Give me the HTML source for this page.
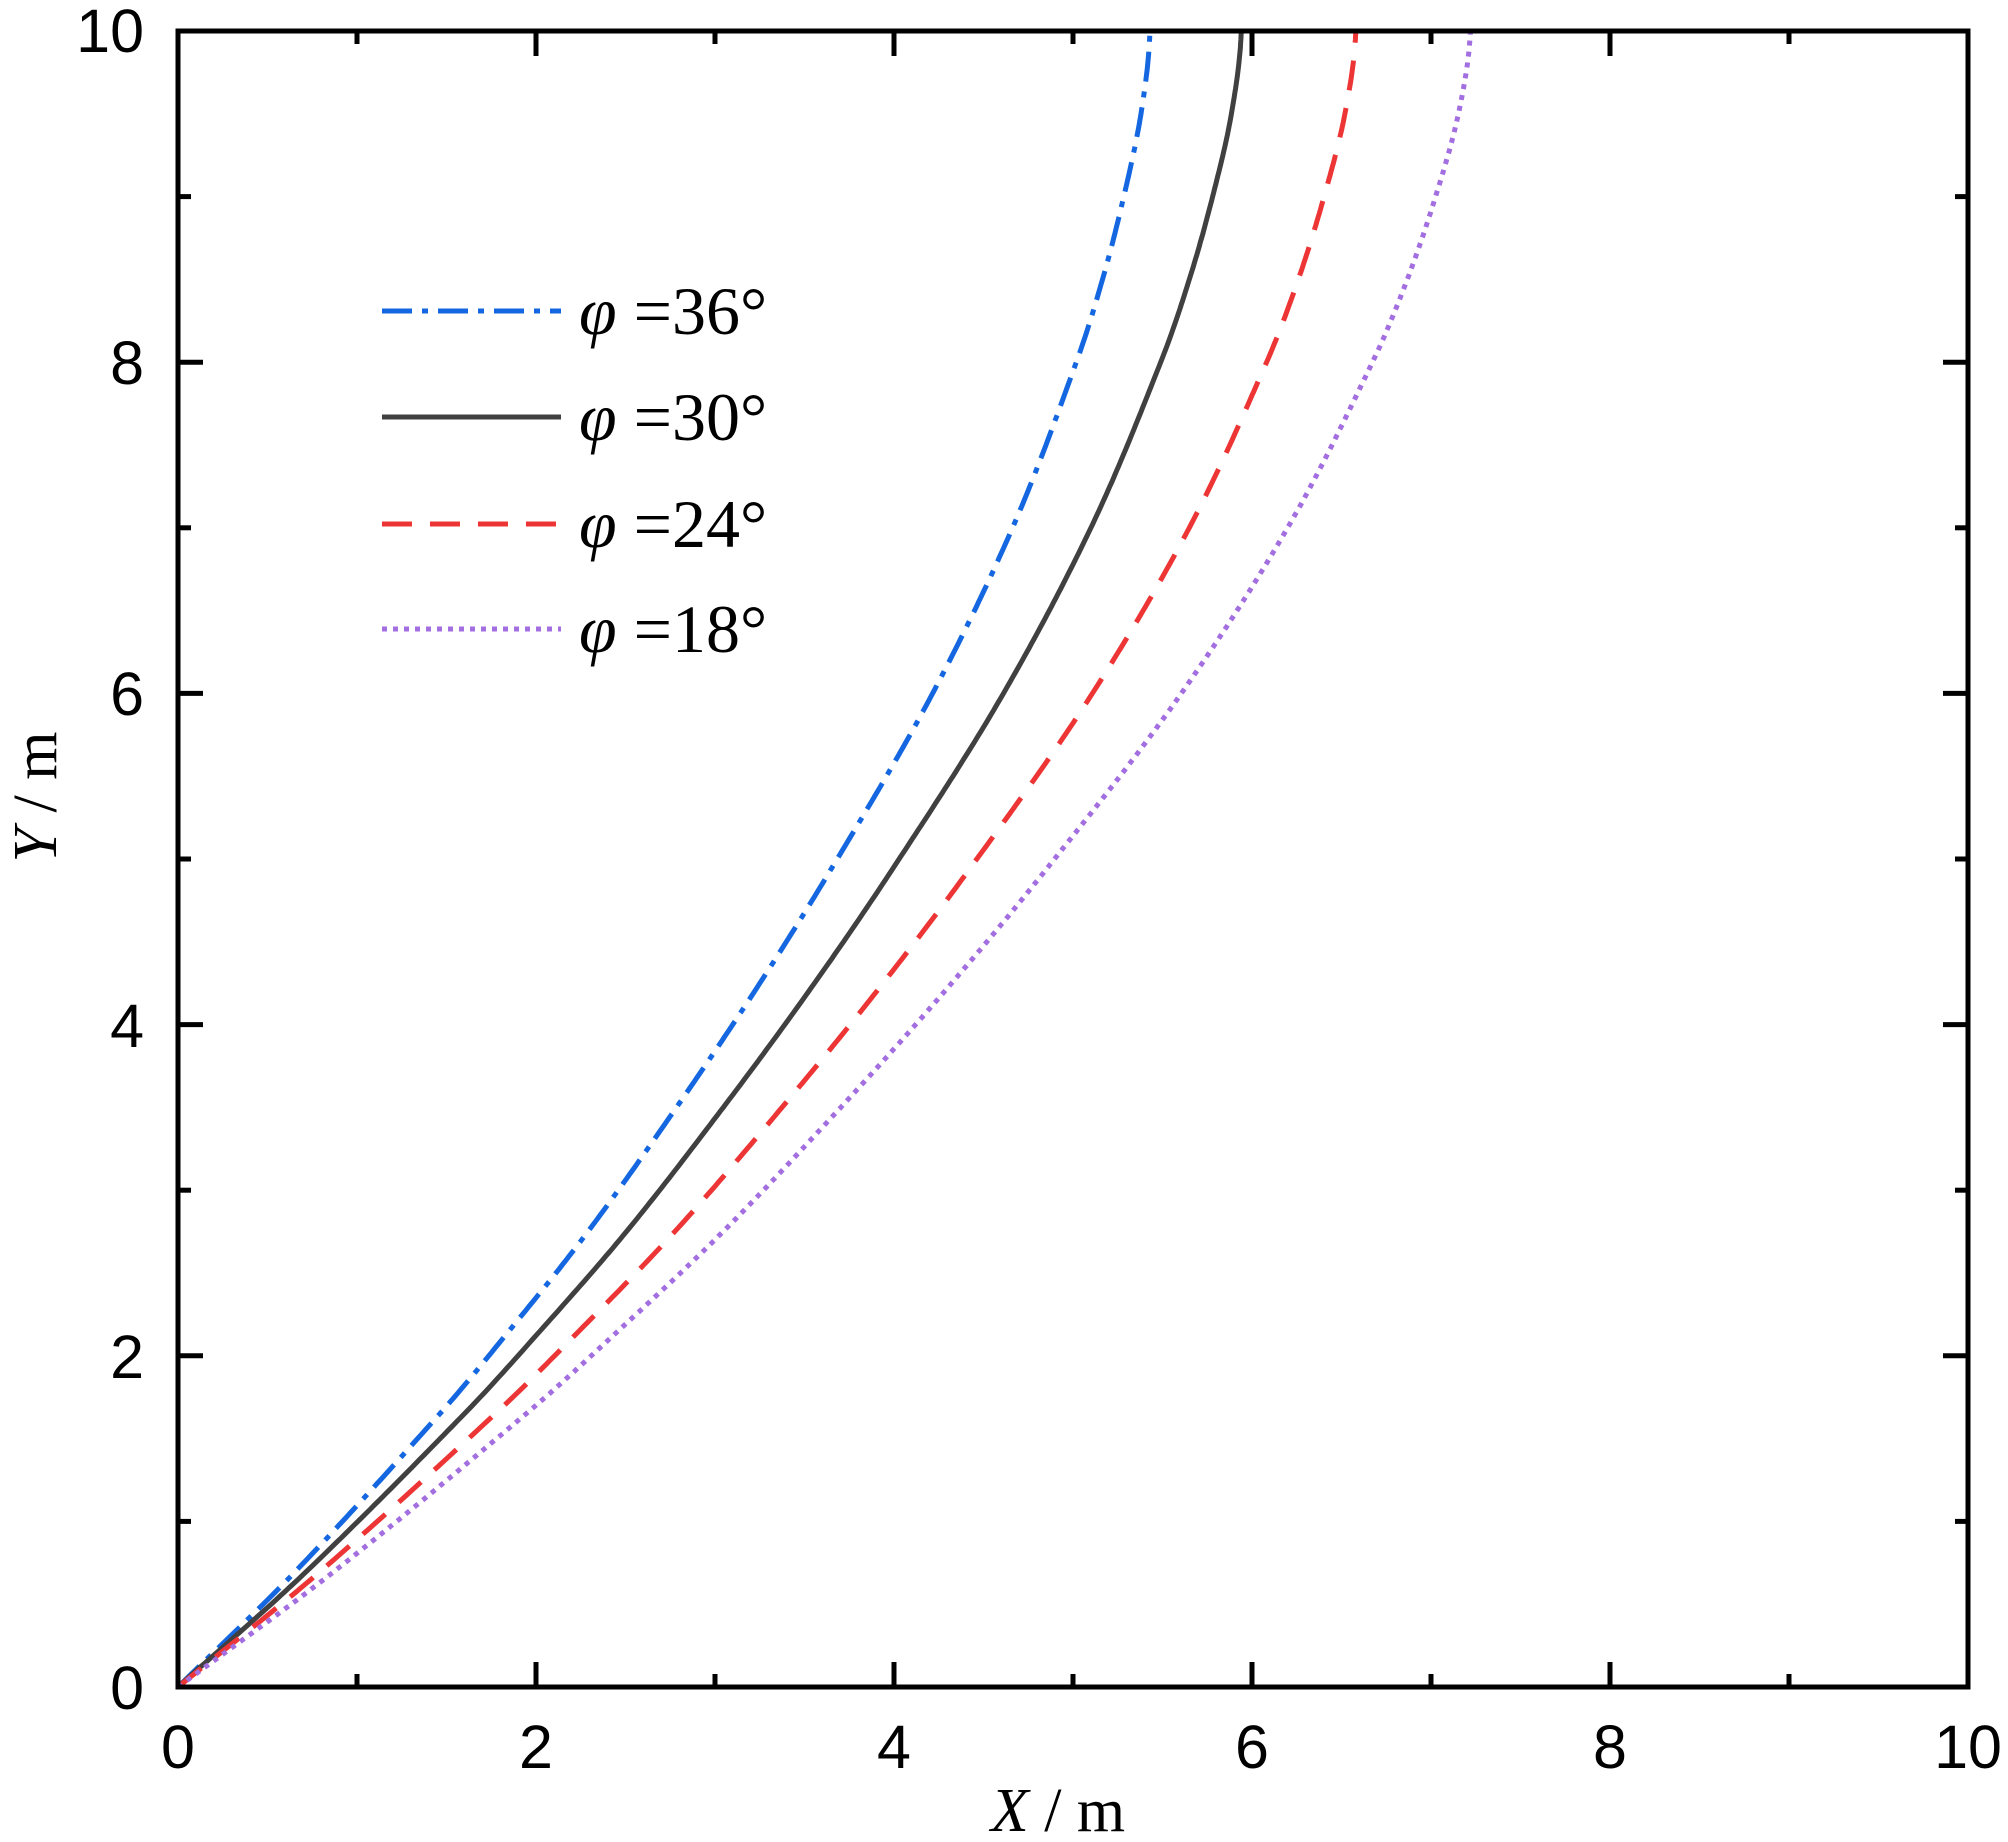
<!DOCTYPE html>
<html><head><meta charset="utf-8"><style>
html,body{margin:0;padding:0;background:#fff;}
svg{display:block;}
</style></head><body>
<svg id="s" width="2008" height="1842" viewBox="0 0 2008 1842" xmlns="http://www.w3.org/2000/svg">
<rect width="2008" height="1842" fill="#fff"/>
<g id="curves" fill="none" stroke-linecap="butt"></g>
<g id="ticks" stroke="#000" stroke-width="5"></g>
<rect x="178" y="31" width="1790" height="1656" fill="none" stroke="#000" stroke-width="5"/>
<g font-family="Liberation Sans, sans-serif" font-size="61" fill="#000">
<text x="178" y="1768" text-anchor="middle">0</text>
<text x="536" y="1768" text-anchor="middle">2</text>
<text x="894" y="1768" text-anchor="middle">4</text>
<text x="1252" y="1768" text-anchor="middle">6</text>
<text x="1610" y="1768" text-anchor="middle">8</text>
<text x="1968" y="1768" text-anchor="middle">10</text>
<text x="144" y="1709" text-anchor="end">0</text>
<text x="144" y="1378" text-anchor="end">2</text>
<text x="144" y="1047" text-anchor="end">4</text>
<text x="144" y="715" text-anchor="end">6</text>
<text x="144" y="384" text-anchor="end">8</text>
<text x="144" y="52" text-anchor="end">10</text>
</g>
<g font-family="Liberation Serif, serif" font-size="62" fill="#000">
<text x="1058" y="1831" text-anchor="middle"><tspan font-style="italic">X</tspan> / m</text>
<text transform="translate(56,797) rotate(-90)" text-anchor="middle"><tspan font-style="italic">Y</tspan> / m</text>
</g>
<g stroke-width="5" fill="none">
<line x1="382" y1="311" x2="561" y2="311" stroke="#1467e0" stroke-dasharray="30,10,6,10"/>
<line x1="382" y1="417" x2="561" y2="417" stroke="#404040"/>
<line x1="382" y1="524" x2="561" y2="524" stroke="#ee3535" stroke-dasharray="30,18"/>
<line x1="382" y1="629" x2="561" y2="629" stroke="#a36ee0" stroke-dasharray="5,6"/>
</g>
<g font-family="Liberation Serif, serif" font-size="68" fill="#000">
<text x="579" y="334"><tspan font-style="italic">φ</tspan> =36°</text>
<text x="579" y="440"><tspan font-style="italic">φ</tspan> =30°</text>
<text x="579" y="547"><tspan font-style="italic">φ</tspan> =24°</text>
<text x="579" y="652"><tspan font-style="italic">φ</tspan> =18°</text>
</g>
</svg>
<script>
(function(){
var NS="http://www.w3.org/2000/svg";
function X(x){return 178+179*x;} function Y(y){return 1687-165.6*y;}
var t=document.getElementById("ticks");
function ln(a,b,c,d){var l=document.createElementNS(NS,"line");l.setAttribute("x1",a);l.setAttribute("y1",b);l.setAttribute("x2",c);l.setAttribute("y2",d);t.appendChild(l);}
for(var i=1;i<10;i++){var L=(i%2==0)?25:13;
 ln(X(i),1687,X(i),1687-L); ln(X(i),31,X(i),31+L);
 ln(178,Y(i),178+L,Y(i)); ln(1968,Y(i),1968-L,Y(i));}
var tb=[[0,0],[0.69,0.71],[1.65,1.60],[2.11,1.99],[2.73,2.49],[3.42,2.99],[4.15,3.49],[4.92,3.98],[5.96,4.59],[7,5.10],[8,5.49],[8.5,5.65],[9,5.78],[9.5,5.885],[10,5.94]];
function f(y){for(var k=0;k<tb.length-1;k++){if(y<=tb[k+1][0]){var p0=tb[Math.max(k-1,0)],p1=tb[k],p2=tb[k+1],p3=tb[Math.min(k+2,tb.length-1)];var u=(y-p1[0])/(p2[0]-p1[0]);
 var m1=(p2[1]-p0[1])/(p2[0]-p0[0]||1),m2=(p3[1]-p1[1])/(p3[0]-p1[0]||1);if(k==tb.length-2)m2=0.03;var h=p2[0]-p1[0];
 var h00=2*u*u*u-3*u*u+1,h10=u*u*u-2*u*u+u,h01=-2*u*u*u+3*u*u,h11=u*u*u-u*u;return h00*p1[1]+h10*h*m1+h01*p2[1]+h11*h*m2;}}return tb[tb.length-1][1];}
var series=[[5.43,"#1467e0","30,10,6,10"],[5.94,"#404040",""],[6.58,"#ee3535","30,18"],[7.22,"#a36ee0","5,6"]];
var g=document.getElementById("curves");
series.forEach(function(s){var k=s[0]/5.94,d="";for(var j=0;j<=400;j++){var y=j*10/400;var x=f(y)*k;d+=(j?"L":"M")+X(x).toFixed(1)+","+Y(y).toFixed(1);}
 var p=document.createElementNS(NS,"path");p.setAttribute("d",d);p.setAttribute("stroke",s[1]);p.setAttribute("stroke-width","5");if(s[2])p.setAttribute("stroke-dasharray",s[2]);g.appendChild(p);});
})();
</script>
</body></html>
